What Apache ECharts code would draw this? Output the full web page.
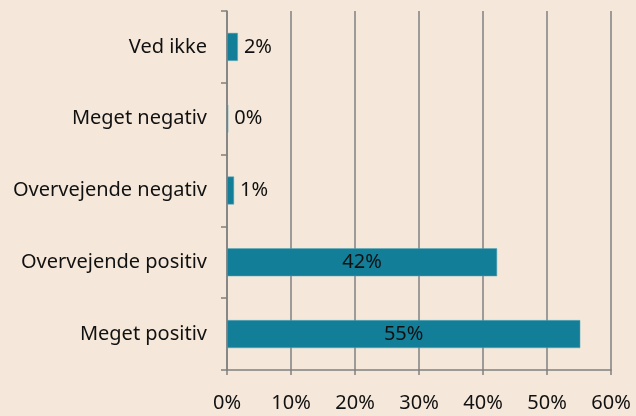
<!DOCTYPE html>
<html lang="da">
<head>
    <meta charset="UTF-8">
    <title></title>
    <style>
        html, body { margin: 0; padding: 0; background: #f5e8da; }
        #chart { width: 636px; height: 416px; }
    </style>
</head>
<body>
<div id="chart"></div>
<script src="https://cdn.jsdelivr.net/npm/echarts@6/dist/echarts.min.js"></script>
<script type="text/javascript">
    // kategorier nedefra og op
    var categories = ['Meget positiv', 'Overvejende positiv', 'Overvejende negativ', 'Meget negativ', 'Ved ikke'];
    var values = [55.2, 42.2, 1.1, 0.2, 1.7];
    var xTicks = [0, 10, 20, 30, 40, 50, 60];

    var font = 'Noto Sans';
    var seriesData = [];
    for (var i = 0; i < values.length; i++) {
        seriesData.push({
            value: values[i],
            label: {position: values[i] > 10 ? 'inside' : 'right', distance: 6}
        });
    }

    var chart = echarts.init(document.getElementById('chart'));
    var option = {
        backgroundColor: '#f5e8da',
        animation: false,
        grid: {left: 227, right: 25, top: 11, bottom: 46},
        xAxis: {
            type: 'value',
            min: xTicks[0],
            max: xTicks[xTicks.length - 1],
            interval: 10,
            axisLine: {show: true, lineStyle: {color: '#808080', width: 1.5}},
            axisTick: {show: true, length: 5, lineStyle: {color: '#808080', width: 1.5}},
            splitLine: {show: true, lineStyle: {color: '#808080', width: 1.5}},
            axisLabel: {
                formatter: '{value}%',
                color: '#111',
                fontFamily: font,
                fontSize: 20,
                margin: 23
            }
        },
        yAxis: {
            type: 'category',
            data: categories,
            axisLine: {show: true, lineStyle: {color: '#808080', width: 1.5}},
            axisTick: {show: true, length: 6, lineStyle: {color: '#808080', width: 1.5}},
            axisLabel: {
                color: '#111',
                fontFamily: font,
                fontSize: 20,
                margin: 20,
                padding: [3, 0, 0, 0]
            }
        },
        series: [{
            type: 'bar',
            data: seriesData,
            barWidth: 28,
            itemStyle: {color: '#137e98', borderColor: '#5aa9bb', borderWidth: 0.5},
            label: {
                show: true,
                color: '#111',
                fontFamily: font,
                fontSize: 20,
                padding: [4, 0, 0, 0],
                formatter: function (p) {
                    return Math.round(p.value) + '%';
                }
            }
        }]
    };
    chart.setOption(option);
</script>
</body>
</html>
